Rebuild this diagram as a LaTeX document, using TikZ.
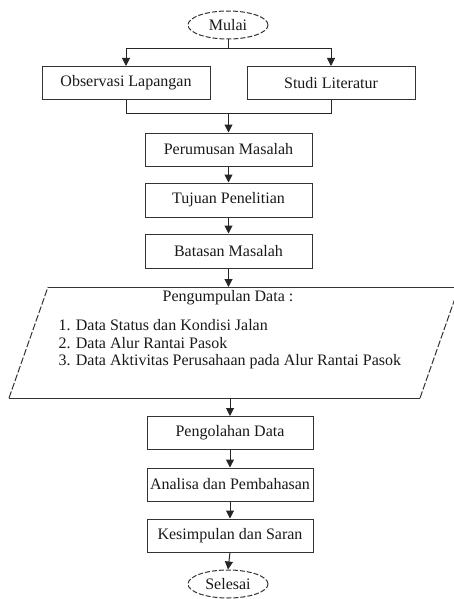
\documentclass[tikz,border=0pt]{standalone}
\usepackage{fontspec}
\setmainfont{Liberation Serif}
\usetikzlibrary{arrows.meta,shapes.geometric}
\begin{document}
\begin{tikzpicture}[x=1pt,y=-1pt,
  every node/.style={font=\fontsize{16}{19}\selectfont, text=black!90},
  stepbox/.style={draw=black!80, line width=1pt, minimum width=167pt, minimum height=33pt, inner sep=0pt},
  termbox/.style={ellipse, draw=black!80, line width=1pt, dash pattern=on 5pt off 2pt, minimum width=80pt, minimum height=28pt, inner sep=0pt},
  conn/.style={draw=black!85, line width=1pt},
  arr/.style={conn, -{Triangle[length=8pt,width=8pt]}}]
\useasboundingbox (0,0) rectangle (454,599);
\clip (0,0) rectangle (454,599);

% terminals
\node[termbox] (mulai) at (228,25) {Mulai};
\node[termbox] (sel) at (228,584) {Selesai};

% boxes
\node[stepbox, minimum width=168pt] (obs) at (126,83) {Observasi Lapangan};
\node[stepbox, minimum width=168pt] (stu) at (331,83) {Studi Literatur};
\node[stepbox] (per) at (228.5,149.5) {Perumusan Masalah};
\node[stepbox, minimum height=34pt] (tuj) at (228.5,200) {Tujuan Penelitian};
\node[stepbox, minimum height=34pt] (bat) at (228.5,251) {Batasan Masalah};
\node[stepbox, minimum width=166pt] (peng) at (230,433) {Pengolahan Data};
\node[stepbox, minimum width=166pt] (ana) at (230,484.5) {Analisa dan Pembahasan};
\node[stepbox, minimum width=166pt] (kes) at (230,535.5) {Kesimpulan dan Saran};

% data parallelogram
\draw[draw=black!80, line width=1pt] (48,287) -- (459,287);
\draw[draw=black!80, line width=1pt] (9,398) -- (420,398);
\draw[draw=black!80, line width=1pt, dash pattern=on 7pt off 2pt] (9,398) -- (48,287);
\draw[draw=black!80, line width=1pt, dash pattern=on 7pt off 2pt] (420,398) -- (459,287);
\coordinate (pdtop) at (228.5,287);
\coordinate (pdbot) at (230,398);
\node (pdtitle) at (228,298) {Pengumpulan Data :};
\node[anchor=west] (pd1) at (55,325) {1. Data Status dan Kondisi Jalan};
\node[anchor=west] (pd2) at (55,343) {2. Data Alur Rantai Pasok};
\node[anchor=west] (pd3) at (55,362) {3. Data Aktivitas Perusahaan pada Alur Rantai Pasok};

% connectors
\draw[conn] (mulai.south) -- (228,49) coordinate (split);
\draw[arr] (split) -| (obs.north);
\draw[arr] (split) -| (stu.north);
\coordinate (join) at (228.5,114);
\coordinate (jl) at (126,114);
\coordinate (jr) at (331,114);
\draw[conn] (obs.south) -- (jl) -- (jr) -- (stu.south);
\draw[arr] (join) -- (per.north);
\draw[arr] (per.south) -- (tuj.north);
\draw[arr] (tuj.south) -- (bat.north);
\draw[arr] (bat.south) -- (pdtop);
\draw[arr] (pdbot) -- (peng.north);
\draw[arr] (peng.south) -- (ana.north);
\draw[arr] (ana.south) -- (kes.north);
\draw[arr] (kes.south) -- (sel.north);
\end{tikzpicture}
\end{document}
